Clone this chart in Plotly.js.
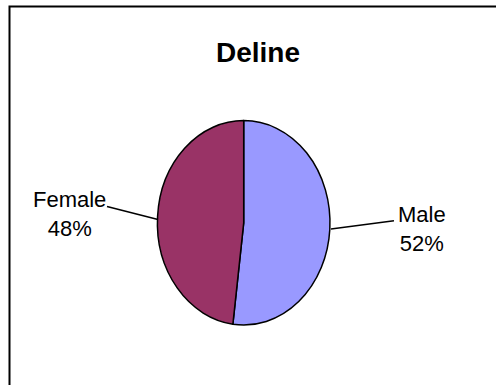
<!DOCTYPE html>
<html>
<head>
<meta charset="utf-8">
<script src="https://cdn.plot.ly/plotly-3.0.1.min.js"></script>
<style>html,body{margin:0;padding:0;background:#fff;}#chart{width:496px;height:385px;}</style>
</head>
<body>
<div id="chart"></div>
<script>
var chartTitle = "Deline";
var categories = ["Male", "Female"];
var values = [52, 48];
var colors = ["#9999FF", "#993366"];

var W = 496, H = 385;
// ellipse geometry (pixels)
var cx = 243.7, cy = 222.8, rx = 86.3, ry = 102.2;

var total = values.reduce(function(a, b){ return a + b; }, 0);
function pct(v){ return Math.round(v / total * 100) + "%"; }

var trace = {
  type: "pie",
  labels: categories,
  values: values,
  sort: false,
  direction: "clockwise",
  rotation: 0,
  textinfo: "none",
  hoverinfo: "none",
  marker: {colors: colors, line: {color: "#000000", width: 1.5}},
  domain: {
    x: [(cx - ry) / W, (cx + ry) / W],
    y: [1 - (cy + ry) / H, 1 - (cy - ry) / H]
  },
  showlegend: false
};

function px(x){ return x / W; }
function py(y){ return 1 - y / H; }

var labelFont = {family: "Liberation Sans, Arial, sans-serif", size: 22, color: "#000"};
var annotations = [
  {text: categories[1] + "<br>" + pct(values[1]), x: px(69), y: py(214), xref: "paper", yref: "paper",
   xanchor: "center", yanchor: "middle", showarrow: false, font: labelFont, align: "center"},
  {text: categories[0] + "<br>" + pct(values[0]), x: px(422), y: py(229), xref: "paper", yref: "paper",
   xanchor: "center", yanchor: "middle", showarrow: false, font: labelFont, align: "center"}
];

var shapes = [
  {type: "rect", xref: "paper", yref: "paper", x0: px(9.5), x1: px(510), y0: py(420), y1: py(6.5),
   line: {color: "#000", width: 2}, fillcolor: "rgba(0,0,0,0)"},
  {type: "line", xref: "paper", yref: "paper", x0: px(107), y0: py(206.5), x1: px(158), y1: py(219.5),
   line: {color: "#000", width: 1.5}},
  {type: "line", xref: "paper", yref: "paper", x0: px(331), y0: py(229), x1: px(394), y1: py(220.7),
   line: {color: "#000", width: 1.5}}
];

var layout = {
  width: W, height: H,
  margin: {l: 0, r: 0, t: 0, b: 0},
  paper_bgcolor: "#fff",
  plot_bgcolor: "#fff",
  title: {text: "<b>" + chartTitle + "</b>", x: 258 / W, xanchor: "center", y: py(52), yanchor: "middle",
          yref: "paper", font: {family: "Liberation Sans, Arial, sans-serif", size: 28, color: "#000"}},
  annotations: annotations,
  shapes: shapes,
  showlegend: false
};

Plotly.newPlot("chart", [trace], layout, {displayModeBar: false, staticPlot: true}).then(function(gd){
  var sx = rx / ry;
  var groups = gd.querySelectorAll(".pielayer .trace");
  groups.forEach(function(g){
    g.setAttribute("transform", "translate(" + cx + ",0) scale(" + sx + ",1) translate(" + (-cx) + ",0)");
  });
  gd.querySelectorAll(".pielayer path.surface").forEach(function(p){
    p.style.vectorEffect = "non-scaling-stroke";
  });
});
</script>
</body>
</html>
